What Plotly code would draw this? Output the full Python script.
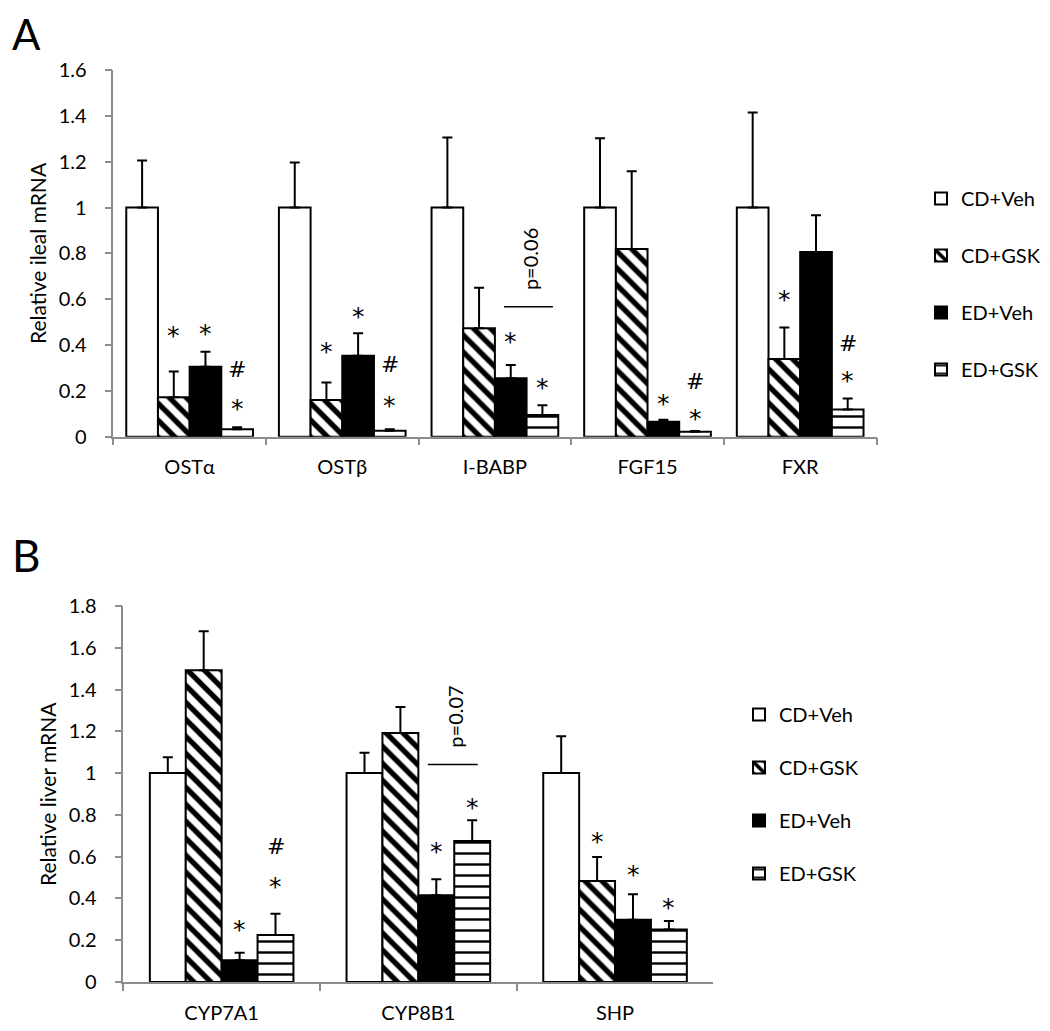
import plotly.graph_objects as go

# ---------------- data ----------------
series_names = ["CD+Veh", "CD+GSK", "ED+Veh", "ED+GSK"]

cats_A = ["OSTα", "OSTβ", "I-BABP", "FGF15", "FXR"]
A_cd_veh = [1.0, 1.0, 1.0, 1.0, 1.0]
A_cd_veh_err = [0.205, 0.196, 0.306, 0.302, 0.415]
A_cd_gsk = [0.172, 0.160, 0.473, 0.819, 0.339]
A_cd_gsk_err = [0.112, 0.077, 0.177, 0.339, 0.137]
A_ed_veh = [0.305, 0.353, 0.255, 0.065, 0.806]
A_ed_veh_err = [0.066, 0.098, 0.058, 0.009, 0.160]
A_ed_gsk = [0.032, 0.026, 0.095, 0.022, 0.119]
A_ed_gsk_err = [0.009, 0.007, 0.042, 0.003, 0.048]

cats_B = ["CYP7A1", "CYP8B1", "SHP"]
B_cd_veh = [1.0, 1.0, 1.0]
B_cd_veh_err = [0.076, 0.097, 0.176]
B_cd_gsk = [1.492, 1.192, 0.484]
B_cd_gsk_err = [0.187, 0.125, 0.115]
B_ed_veh = [0.104, 0.415, 0.298]
B_ed_veh_err = [0.036, 0.077, 0.122]
B_ed_gsk = [0.225, 0.675, 0.251]
B_ed_gsk_err = [0.102, 0.099, 0.041]

# significance marks: (category index, series index, text, y)
marks_A = [(0, 1, "*", 0.473), (0, 2, "*", 0.48), (0, 3, "#", 0.298), (0, 3, "*", 0.153),
           (1, 1, "*", 0.404), (1, 2, "*", 0.553), (1, 3, "#", 0.32), (1, 3, "*", 0.167),
           (2, 2, "*", 0.444), (2, 3, "*", 0.247),
           (3, 2, "*", 0.175), (3, 3, "#", 0.247), (3, 3, "*", 0.109),
           (4, 1, "*", 0.628), (4, 3, "#", 0.41), (4, 3, "*", 0.276)]
marks_B = [(0, 1, "*", 1.86), (0, 2, "*", 0.287), (0, 3, "#", 0.654), (0, 3, "*", 0.492),
           (1, 2, "*", 0.658), (1, 3, "*", 0.867),
           (2, 1, "*", 0.707), (2, 2, "*", 0.547), (2, 3, "*", 0.388)]

FONT = "Lato"
MARKFONT = "DejaVu Sans"
PAGE_OFF = 8            # default body margin of the html page
W, H = 1050 - PAGE_OFF, 1031 - PAGE_OFF

def px_x(p):
    return (p - PAGE_OFF) / W

def px_y(p):
    return 1 - (p - PAGE_OFF) / H

GAP_A = 0.17
GAP_B = 0.27

def bar_w(gap):
    return (1 - gap) / 4

def styles():
    return [
        dict(color="white", line=dict(color="black", width=2)),
        dict(color="white", line=dict(color="black", width=2),
             pattern=dict(shape="\\", fgcolor="black", bgcolor="white", size=12, solidity=0.45, fillmode="replace")),
        dict(color="black", line=dict(color="black", width=2)),
        dict(color="white", line=dict(color="black", width=2),
             pattern=dict(shape="-", fgcolor="black", bgcolor="white", size=11, solidity=0.22, fillmode="replace")),
    ]

fig = go.Figure()

A_vals = [A_cd_veh, A_cd_gsk, A_ed_veh, A_ed_gsk]
A_errs = [A_cd_veh_err, A_cd_gsk_err, A_ed_veh_err, A_ed_gsk_err]
B_vals = [B_cd_veh, B_cd_gsk, B_ed_veh, B_ed_gsk]
B_errs = [B_cd_veh_err, B_cd_gsk_err, B_ed_veh_err, B_ed_gsk_err]

st = styles()
for i, name in enumerate(series_names):
    w = bar_w(GAP_A)
    fig.add_trace(go.Bar(
        x=cats_A, y=A_vals[i], name=name, marker=st[i], xaxis="x", yaxis="y",
        width=w, offset=(-2 + i) * w,
        legend="legend", legendgroup="a%d" % i,
        error_y=dict(type="data", array=A_errs[i], arrayminus=[0] * len(cats_A), symmetric=False,
                     color="black", thickness=2, width=5),
    ))
for i, name in enumerate(series_names):
    w = bar_w(GAP_B)
    fig.add_trace(go.Bar(
        x=cats_B, y=B_vals[i], name=name, marker=st[i], xaxis="x2", yaxis="y2",
        width=w, offset=(-2 + i) * w,
        legend="legend2", legendgroup="b%d" % i,
        error_y=dict(type="data", array=B_errs[i], arrayminus=[0] * len(cats_B), symmetric=False,
                     color="black", thickness=2, width=5),
    ))

axis_common = dict(showline=True, linecolor="#8c8c8c", linewidth=1.5, showgrid=False, zeroline=False,
                   ticks="outside", ticklen=7, tickcolor="#8c8c8c", tickwidth=1.5,
                   tickfont=dict(family=FONT, size=20, color="black"))

fig.update_layout(
    width=W, height=H, margin=dict(l=0, r=0, t=0, b=0, autoexpand=False),
    paper_bgcolor="white", plot_bgcolor="white",
    barmode="overlay",
    font=dict(family=FONT, color="black"),
    xaxis=dict(domain=[px_x(113.3), px_x(876.5)], anchor="y", tickson="boundaries",
               ticklabelstandoff=12, **axis_common),
    yaxis=dict(domain=[px_y(436.7), px_y(70)], anchor="x", range=[0, 1.6], dtick=0.2,
               ticklabelstandoff=14, **axis_common),
    xaxis2=dict(domain=[px_x(123.3), px_x(713.4)], anchor="y2", tickson="boundaries",
                ticklabelstandoff=12, **axis_common),
    yaxis2=dict(domain=[px_y(982), px_y(606)], anchor="x2", range=[0, 1.8], dtick=0.2,
                ticklabelstandoff=14, **axis_common),
    legend=dict(x=px_x(921), y=px_y(179), xanchor="left", yanchor="top",
                font=dict(family=FONT, size=20, color="black"), traceorder="grouped",
                tracegroupgap=28, bgcolor="rgba(0,0,0,0)"),
    legend2=dict(x=px_x(739), y=px_y(695), xanchor="left", yanchor="top",
                 font=dict(family=FONT, size=20, color="black"), traceorder="grouped",
                 tracegroupgap=24, bgcolor="rgba(0,0,0,0)"),
)

annotations = []
shapes = []

def add_marks(marks, gap, xref, yref):
    w = bar_w(gap)
    for ci, si, txt, yv in marks:
        annotations.append(dict(
            x=ci + (-1.5 + si) * w, y=yv, xref=xref, yref=yref, text=txt, showarrow=False,
            xanchor="center", yanchor="middle",
            font=dict(family=MARKFONT, size=25 if txt == "*" else 22, color="black"),
            yshift=-7 if txt == "*" else -1))

add_marks(marks_A, GAP_A, "x", "y")
add_marks(marks_B, GAP_B, "x2", "y2")

# p-value brackets
shapes.append(dict(type="line", xref="x", yref="y", x0=2.06, x1=2.38, y0=0.567, y1=0.567,
                   line=dict(color="black", width=1.5)))
annotations.append(dict(x=2.23, y=0.775, xref="x", yref="y", text="p=0.06", textangle=-90,
                        xanchor="center", yanchor="middle",
                        showarrow=False, font=dict(family=FONT, size=20, color="black")))
shapes.append(dict(type="line", xref="x2", yref="y2", x0=1.048, x1=1.302, y0=1.041, y1=1.041,
                   line=dict(color="black", width=1.5)))
annotations.append(dict(x=1.186, y=1.27, xref="x2", yref="y2", text="p=0.07", textangle=-90,
                        xanchor="center", yanchor="middle",
                        showarrow=False, font=dict(family=FONT, size=20, color="black")))

# axis titles
annotations.append(dict(x=px_x(37), y=px_y(253), xref="paper", yref="paper", text="Relative ileal mRNA",
                        xanchor="center", yanchor="middle",
                        textangle=-90, showarrow=False, font=dict(family=FONT, size=21, color="black")))
annotations.append(dict(x=px_x(47), y=px_y(794), xref="paper", yref="paper", text="Relative liver mRNA",
                        xanchor="center", yanchor="middle",
                        textangle=-90, showarrow=False, font=dict(family=FONT, size=21, color="black")))
# panel letters
annotations.append(dict(x=px_x(26), y=1, xref="paper", yref="paper", text="A",
                        xanchor="center", yanchor="top", borderpad=0,
                        showarrow=False, font=dict(family=FONT, size=42, color="black")))
annotations.append(dict(x=px_x(26), y=px_y(555), xref="paper", yref="paper", text="B",
                        xanchor="center", yanchor="middle",
                        showarrow=False, font=dict(family=FONT, size=44, color="black")))

fig.update_layout(annotations=annotations, shapes=shapes)

fig.write_html("out.html")
